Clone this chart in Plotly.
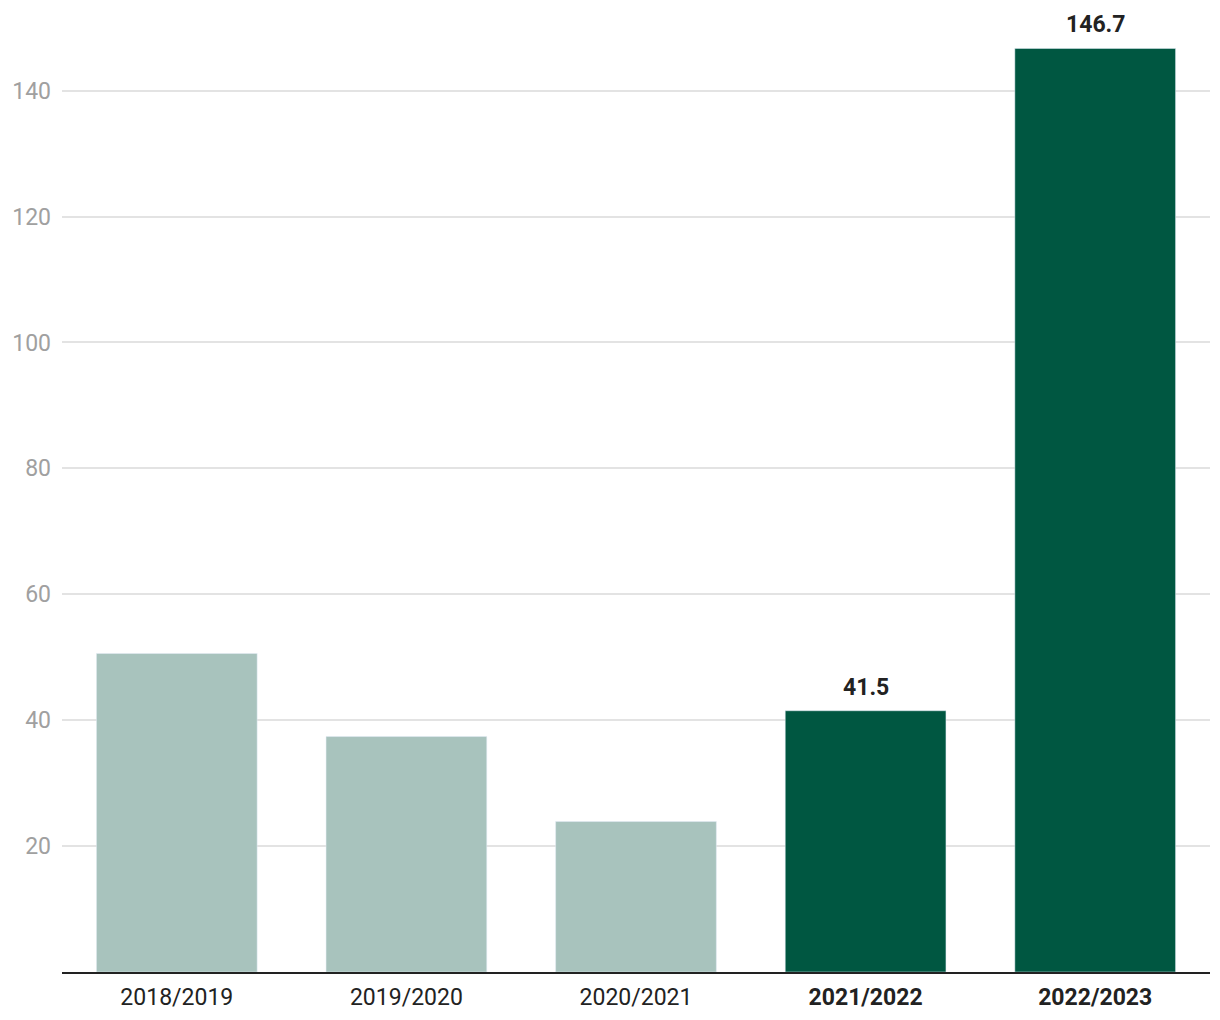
import plotly.graph_objects as go

categories = ["2018/2019", "2019/2020", "2020/2021", "2021/2022", "2022/2023"]
tick_labels = ["2018/2019", "2019/2020", "2020/2021", "<b>2021/2022</b>", "<b>2022/2023</b>"]
values = [50.6, 37.4, 23.9, 41.5, 146.7]
bar_colors = ["#a8c3bd", "#a8c3bd", "#a8c3bd", "#005741", "#005741"]
labeled = [False, False, False, True, True]
y_ticks = [20, 40, 60, 80, 100, 120, 140]

fig = go.Figure()
fig.add_trace(go.Bar(x=categories, y=values, marker_color=bar_colors, width=0.7,
                     hoverinfo="x+y"))

for c, v, lab in zip(categories, values, labeled):
    if lab:
        fig.add_annotation(x=c, y=v, text=f"<b>{v}</b>", showarrow=False,
                           yanchor="bottom", yshift=8,
                           font=dict(family="Roboto", size=23, color="#222222"))

fig.update_layout(
    width=1220, height=1020,
    margin=dict(l=62, r=10, t=0, b=48),
    plot_bgcolor="white", paper_bgcolor="white",
    showlegend=False,
    font=dict(family="Roboto"),
    bargap=0.3,
)
fig.update_xaxes(
    tickvals=categories, ticktext=tick_labels,
    showline=True, linecolor="#222222", linewidth=2,
    showgrid=False, ticks="",
    ticklabelstandoff=3,
    tickfont=dict(family="Roboto", size=23, color="#222222"),
)
fig.update_yaxes(
    range=[0, 154.4], tickvals=y_ticks,
    showgrid=True, gridcolor="#e3e3e3", gridwidth=1.5,
    zeroline=False, showline=False, ticks="",
    ticklabelstandoff=10,
    tickfont=dict(family="Roboto", size=23, color="#a0a0a0"),
)

fig.write_html("out.html")
